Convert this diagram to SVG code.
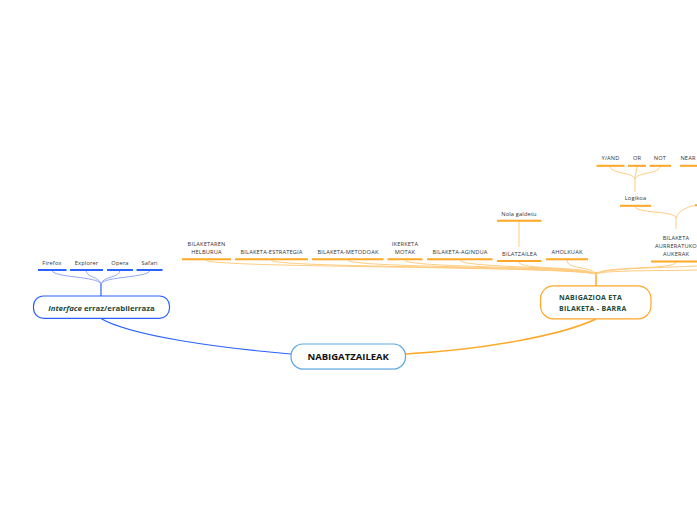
<svg xmlns="http://www.w3.org/2000/svg" width="697" height="520" viewBox="0 0 697 520">
<style>
.t{font-family:"Open Sans","Liberation Sans",sans-serif;font-size:5.7px;letter-spacing:0.15px;fill:#333;text-anchor:middle}
.ul{stroke:#FFA726;stroke-width:2;fill:none}
.ulb{stroke:#2962FF;stroke-width:2;fill:none}
.c{stroke:#FFCC80;stroke-width:1;fill:none}
.cb{stroke:#8FA8F5;stroke-width:1;fill:none}
.main{stroke:#FFA726;stroke-width:1.5;fill:none}
.mainb{stroke:#2962FF;stroke-width:1.2;fill:none}
.bt{font-family:"Open Sans","Liberation Sans",sans-serif;font-weight:bold;fill:#1B4B3A}
</style>
<rect width="697" height="520" fill="#fff"/>
<g id="connectors">
<path class="main" d="M405 354 C480 350 560 336 596 319"/>
<path class="mainb" d="M291 354 C220 348 130 336 100 318"/>
<path class="main" d="M596 272 V286" stroke-width="2"/>
<path class="mainb" d="M101 283 V296"/>
<path class="c" d="M206 260 C206 268 560 266 596 274"/>
<path class="c" d="M271 260 C271 268 565 266 596 274"/>
<path class="c" d="M348 260 C348 268 570 266 596 274"/>
<path class="c" d="M405 260 C405 268 575 266 596 274"/>
<path class="c" d="M460 260 C460 268 580 266 596 274"/>
<path class="c" d="M519 262 C519 270 585 266 596 274"/>
<path class="c" d="M567 260 C567 270 592 266 596 274"/>
<path class="c" d="M676 262 C676 270 600 266 596 274"/>
<path class="c" d="M697 266 C660 268 605 268 596 274"/>
<path class="c" d="M697 270 C660 271 605 270 596 274"/>
<path class="c" d="M519 221 V247"/>
<path class="cb" d="M52 270 C52 278 98 276 101 284"/>
<path class="cb" d="M86 270 C86 278 99 276 101 284"/>
<path class="cb" d="M120 270 C120 278 103 276 101 284"/>
<path class="cb" d="M150 270 C150 278 104 276 101 284"/>
<path class="c" d="M610 166 C610 174 633 172 635 179"/>
<path class="c" d="M637 166 C637 172 635 174 635 179"/>
<path class="c" d="M660 166 C660 174 637 172 635 179"/>
<path class="c" d="M635 178 V192"/>
<path class="c" d="M635 206 C635 214 674 210 676 218"/>
<path class="c" d="M697 205 C690 206 678 210 676 218"/>
<path class="c" d="M676 217 V229"/>
</g>
<g id="n-nabigatzaileak">
<rect x="291" y="344" width="114.5" height="25" rx="12" fill="#fff" stroke="#5AA7E0" stroke-width="1.2"/>
<path d="M300 369.2 H396" stroke="#8EC3EC" stroke-width="1"/>
<text x="348.2" y="360.3" font-family="'Open Sans','Liberation Sans',sans-serif" font-weight="bold" font-size="9.5" fill="#111" text-anchor="middle">NABIGATZAILEAK</text>
</g>
<g id="n-nabigazioa">
<rect x="540.5" y="285.8" width="110.5" height="33" rx="13" fill="#fff" stroke="#FFA726" stroke-width="1.2"/>
<text class="bt" x="559" y="299.5" font-size="7" letter-spacing="0.3">NABIGAZIOA ETA</text>
<text class="bt" x="559" y="310.5" font-size="7" letter-spacing="0.3">BILAKETA - BARRA</text>
</g>
<g id="n-interface">
<rect x="33.5" y="296" width="136" height="22.3" rx="10" fill="#fff" stroke="#2962FF" stroke-width="1.2"/>
<text class="bt" x="101.5" y="310.6" font-size="7.8" text-anchor="middle"><tspan font-style="italic">Interface</tspan> erraz/erabilerraza</text>
</g>
<g id="n-firefox"><path class="ulb" d="M38 270 H66.5"/><text class="t" x="52" y="265">Firefox</text></g>
<g id="n-explorer"><path class="ulb" d="M70 270 H103"/><text class="t" x="86.5" y="265">Explorer</text></g>
<g id="n-opera"><path class="ulb" d="M107 270 H133"/><text class="t" x="120" y="265">Opera</text></g>
<g id="n-safari"><path class="ulb" d="M136.5 270 H162.5"/><text class="t" x="149.5" y="265">Safari</text></g>
<g id="n-helburua"><path class="ul" d="M182 259.3 H231"/><text class="t" x="206.5" y="245.5">BILAKETAREN</text><text class="t" x="206.5" y="253.5">HELBURUA</text></g>
<g id="n-estrategia"><path class="ul" d="M235 259.3 H308"/><text class="t" x="271.5" y="253.5">BILAKETA-ESTRATEGIA</text></g>
<g id="n-metodoak"><path class="ul" d="M312 259.3 H383.5"/><text class="t" x="348" y="253.5">BILAKETA-METODOAK</text></g>
<g id="n-ikerketa"><path class="ul" d="M387.5 259.3 H422.5"/><text class="t" x="405" y="245.5">IKERKETA</text><text class="t" x="405" y="253.5">MOTAK</text></g>
<g id="n-agindua"><path class="ul" d="M427 259.3 H492.5"/><text class="t" x="460" y="253.5">BILAKETA-AGINDUA</text></g>
<g id="n-bilatzailea"><path class="ul" d="M497 261 H541.5" stroke-width="2.2"/><text class="t" x="519.5" y="255.5">BILATZAILEA</text></g>
<g id="n-nola"><path class="ul" d="M497 220.8 H541.5"/><text class="t" x="519" y="216">Nola galdetu</text></g>
<g id="n-aholkuak"><path class="ul" d="M546 259.3 H588"/><text class="t" x="567" y="253.5">AHOLKUAK</text></g>
<g id="n-aurreratuko"><path class="ul" d="M651 261.5 H697"/><text class="t" x="676" y="239.5">BILAKETA</text><text class="t" x="676" y="247.5">AURRERATUKO</text><text class="t" x="676" y="256">AUKERAK</text></g>
<g id="n-logikoa"><path class="ul" d="M620 205.8 H651"/><text class="t" x="635.5" y="199.5">Logikoa</text></g>
<g id="n-right"><path class="ul" d="M695 205.3 H697"/></g>
<g id="n-yand"><path class="ul" d="M596.5 165.8 H624.5"/><text class="t" x="610.5" y="160">Y/AND</text></g>
<g id="n-or"><path class="ul" d="M628 165.8 H646"/><text class="t" x="637" y="160">OR</text></g>
<g id="n-not"><path class="ul" d="M649.5 165.8 H671"/><text class="t" x="660" y="160">NOT</text></g>
<g id="n-near"><path class="ul" d="M680 165.8 H697"/><text class="t" x="688" y="160" text-anchor="start">NEAR</text></g>
</svg>
